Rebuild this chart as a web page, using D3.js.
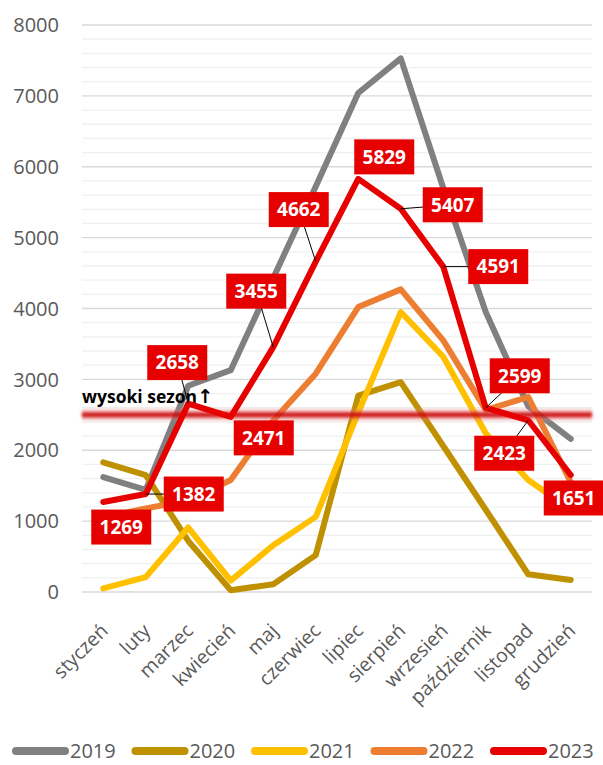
<!DOCTYPE html>
<html>
<head>
<meta charset="utf-8">
<script src="https://cdn.jsdelivr.net/npm/d3@7"></script>
<style>
  body { margin: 0; background: #fff; }
  svg { display: block; font-family: "Open Sans", sans-serif; }
</style>
</head>
<body>
<div id="chart"></div>
<script>
// data
var months = ["styczeń", "luty", "marzec", "kwiecień", "maj", "czerwiec", "lipiec", "sierpień", "wrzesień", "październik", "listopad", "grudzień"];
var years = ["2019", "2020", "2021", "2022", "2023"];
var v2019 = [1620, 1440, 2910, 3130, 4430, 5720, 7040, 7530, 5700, 3950, 2620, 2160];
var v2020 = [1830, 1650, 720, 25, 110, 520, 2770, 2960, 2060, 1160, 250, 170];
var v2021 = [50, 210, 910, 160, 660, 1060, 2530, 3950, 3320, 2240, 1580, 1160];
var v2022 = [1050, 1180, 1290, 1580, 2420, 3080, 4020, 4270, 3550, 2570, 2750, 1550];
var v2023 = [1269, 1382, 2658, 2471, 3455, 4662, 5829, 5407, 4591, 2599, 2423, 1651];
var season = 2500;
var yTicks = [0, 1000, 2000, 3000, 4000, 5000, 6000, 7000, 8000];

var colors = ["#808080", "#BF9000", "#FFC000", "#ED7D31", "#E60000"];
var series = [v2019, v2020, v2021, v2022, v2023];

// label box offsets for 2023 (px from point)
var labelOffsets = [[18, 25], [48, 0], [-11, -41], [33, 21], [-17, -56], [-17, -52],
                    [26, -22], [52, -4], [55, 0], [34, -32], [-24, 33], [3, 23]];

var width = 603, height = 765;
var plotL = 82, plotR = 592, plotT = 25, plotB = 592;

var svg = d3.select("#chart").append("svg")
    .attr("width", width)
    .attr("height", height);

var x = d3.scalePoint().domain(months).range([plotL, plotR]).padding(0.5);
var y = d3.scaleLinear().domain([0, 8000]).range([plotB, plotT]);

// minor grid
svg.append("g").selectAll("line")
    .data(d3.range(0, 8001, 200).filter(function (d) { return d % 1000 != 0; }))
    .enter().append("line")
    .attr("x1", plotL).attr("x2", plotR)
    .attr("y1", function (d) { return y(d); }).attr("y2", function (d) { return y(d); })
    .attr("stroke", "#f0f0f0").attr("stroke-width", 1.3);

// major grid
svg.append("g").selectAll("line")
    .data(yTicks)
    .enter().append("line")
    .attr("x1", plotL).attr("x2", plotR)
    .attr("y1", function (d) { return y(d); }).attr("y2", function (d) { return y(d); })
    .attr("stroke", "#d9d9d9").attr("stroke-width", 1.3);

// y labels
svg.append("g").selectAll("text")
    .data(yTicks)
    .enter().append("text")
    .attr("x", 59)
    .attr("y", function (d) { return y(d); })
    .attr("dy", "0.36em")
    .attr("text-anchor", "end")
    .attr("font-size", 20)
    .attr("fill", "#595959")
    .text(function (d) { return d; });

// x labels
svg.append("g").selectAll("text")
    .data(months)
    .enter().append("text")
    .attr("transform", function (d) { return "translate(" + (x(d) + 6) + ",632) rotate(-45)"; })
    .attr("text-anchor", "end")
    .attr("font-size", 19.5)
    .attr("fill", "#595959")
    .text(function (d) { return d; });

var line = d3.line()
    .x(function (d, i) { return x(months[i]); })
    .y(function (d) { return y(d); });

function drawSeries(i) {
    svg.append("path")
        .datum(series[i])
        .attr("d", line)
        .attr("fill", "none")
        .attr("stroke", colors[i])
        .attr("stroke-width", 6)
        .attr("stroke-linejoin", "round")
        .attr("stroke-linecap", "round");
}

for (var i = 0; i < 4; i++) drawSeries(i);

// high season line (soft red band)
var defs = svg.append("defs");
defs.append("filter").attr("id", "glow")
    .attr("filterUnits", "userSpaceOnUse")
    .attr("x", 0).attr("y", 0).attr("width", width).attr("height", height)
    .append("feGaussianBlur").attr("stdDeviation", 1.5);

svg.append("rect")
    .attr("x", plotL).attr("width", plotR - plotL)
    .attr("y", y(season) - 5.5).attr("height", 11)
    .attr("fill", "#E88080").attr("fill-opacity", 0.45)
    .attr("filter", "url(#glow)");
svg.append("rect")
    .attr("x", plotL).attr("width", plotR - plotL)
    .attr("y", y(season) - 2.5).attr("height", 5)
    .attr("fill", "#C80000").attr("fill-opacity", 0.85)
    .attr("filter", "url(#glow)");

var st = svg.append("text")
    .attr("x", 82).attr("y", 403)
    .attr("font-size", 17.5)
    .attr("font-weight", "bold")
    .attr("fill", "#000");
st.append("tspan").text("wysoki sezon");
st.append("tspan")
    .attr("font-family", "DejaVu Sans")
    .attr("font-size", 19)
    .text("↑");

drawSeries(4);

// labels for 2023
var boxW = 60, boxH = 35;
var labels = svg.append("g");
v2023.forEach(function (v, i) {
    var px = x(months[i]), py = y(v);
    var cx = px + labelOffsets[i][0], cy = py + labelOffsets[i][1];
    var dist = Math.hypot(labelOffsets[i][0], labelOffsets[i][1]);
    if (dist > 40) {
        // leader line toward box centre, box covers the rest
        labels.append("line")
            .attr("x1", px).attr("y1", py)
            .attr("x2", cx).attr("y2", cy)
            .attr("stroke", "#000").attr("stroke-width", 1);
    }
    labels.append("rect")
        .attr("x", cx - boxW / 2).attr("y", cy - boxH / 2)
        .attr("width", boxW).attr("height", boxH)
        .attr("fill", "#E60000");
    labels.append("text")
        .attr("x", cx).attr("y", cy)
        .attr("dy", "0.36em")
        .attr("text-anchor", "middle")
        .attr("font-size", 19)
        .attr("font-weight", "bold")
        .attr("fill", "#fff")
        .text(v);
});

// legend
var legend = svg.append("g").attr("transform", "translate(12,751)");
years.forEach(function (yr, i) {
    var g = legend.append("g").attr("transform", "translate(" + (i * 119.5) + ",0)");
    g.append("line")
        .attr("x1", 4).attr("x2", 53)
        .attr("stroke", colors[i]).attr("stroke-width", 8)
        .attr("stroke-linecap", "round");
    g.append("text")
        .attr("x", 58).attr("dy", "0.36em")
        .attr("font-size", 20)
        .attr("fill", "#595959")
        .text(yr);
});
</script>
</body>
</html>
